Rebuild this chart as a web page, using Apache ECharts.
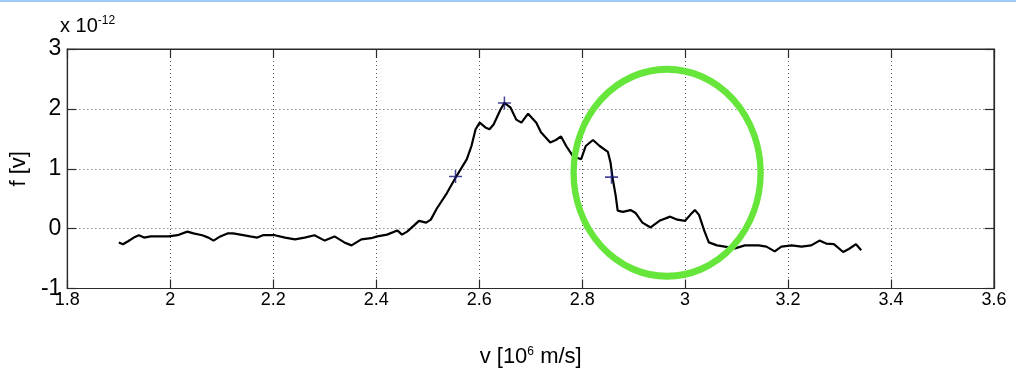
<!DOCTYPE html>
<html><head><meta charset="utf-8">
<script src="https://cdn.jsdelivr.net/npm/echarts@6/dist/echarts.min.js"></script>
<style>html,body{margin:0;padding:0;background:#fff}#c{width:1016px;height:373px}</style>
</head><body><div id="c"></div>
<script>
// velocity v [10^6 m/s]
const velocity = [1.900,1.908,1.918,1.929,1.939,1.949,1.962,1.981,1.997,2.014,2.033,2.045,2.062,2.074,2.084,2.097,2.111,2.122,2.136,2.155,2.169,2.180,2.194,2.203,2.223,2.242,2.261,2.280,2.300,2.319,2.338,2.352,2.371,2.390,2.402,2.421,2.441,2.450,2.460,2.473,2.483,2.497,2.506,2.518,2.537,2.554,2.576,2.585,2.593,2.601,2.612,2.620,2.628,2.641,2.649,2.661,2.672,2.682,2.695,2.711,2.720,2.738,2.749,2.759,2.769,2.782,2.798,2.807,2.821,2.834,2.850,2.855,2.859,2.865,2.869,2.879,2.894,2.904,2.917,2.933,2.950,2.971,2.985,3.000,3.010,3.019,3.027,3.037,3.046,3.062,3.077,3.097,3.116,3.143,3.158,3.174,3.187,3.207,3.226,3.245,3.261,3.274,3.289,3.307,3.318,3.332,3.342];
// f [v] in units of 1e-12
const force = [-0.23,-0.26,-0.21,-0.15,-0.11,-0.15,-0.13,-0.13,-0.13,-0.11,-0.05,-0.08,-0.11,-0.15,-0.20,-0.13,-0.08,-0.08,-0.10,-0.13,-0.15,-0.11,-0.11,-0.11,-0.15,-0.18,-0.15,-0.11,-0.20,-0.13,-0.23,-0.28,-0.18,-0.16,-0.13,-0.10,-0.03,-0.10,-0.05,0.05,0.13,0.10,0.15,0.34,0.59,0.85,1.16,1.38,1.66,1.77,1.69,1.66,1.74,1.98,2.10,2.02,1.82,1.77,1.92,1.77,1.61,1.44,1.48,1.54,1.38,1.21,1.16,1.38,1.48,1.38,1.28,1.11,0.85,0.56,0.30,0.28,0.31,0.26,0.10,0.02,0.13,0.20,0.15,0.13,0.23,0.31,0.23,-0.03,-0.23,-0.28,-0.30,-0.33,-0.28,-0.28,-0.30,-0.38,-0.30,-0.28,-0.30,-0.28,-0.20,-0.25,-0.26,-0.39,-0.34,-0.26,-0.36];
const markerV = [2.554, 2.649, 2.857];
const markerF = [0.87, 2.10, 0.86];
const ellipseCenter = [2.965, 0.934];

const SANS = "'Liberation Sans',Arial,sans-serif";
const NARROW = "'Liberation Sans Narrow','Liberation Sans',sans-serif";
const chart = echarts.init(document.getElementById('c'), null, {renderer: 'canvas'});
const lineData = velocity.map((v, i) => [v, force[i]]);
const markData = markerV.map((v, i) => [v, markerF[i]]);
const axisLineStyle = {color: '#2b2b2b', width: 1.2};
const fmt = v => String(+v.toFixed(1));
const supRich = {sup: {fontSize: 12, fontFamily: SANS, color: '#000', verticalAlign: 'top', padding: [0, 0, 11, 0]}};

function graphics(extra) {
  return [
    {type: 'rect', left: 0, top: 0, shape: {width: 1016, height: 2}, style: {fill: '#9fcdf7'}},
    {type: 'text', left: 60, top: 15, style: {text: 'x 10{sup|-12}', fontFamily: SANS, fontSize: 20, fill: '#000', rich: supRich}}
  ].concat(extra || []);
}

chart.setOption({
  animation: false,
  backgroundColor: '#fff',
  grid: {left: 61, right: 22, top: 49, bottom: 80, show: true, borderColor: '#2b2b2b', borderWidth: 1.2},
  xAxis: [{
    type: 'value', min: 1.8, max: 3.6, interval: 0.2,
    name: 'v [10{sup|6} m/s]', nameLocation: 'middle', nameGap: 57,
    nameTextStyle: {fontFamily: SANS, fontSize: 22, color: '#000', rich: supRich},
    axisLine: {show: true, onZero: false, lineStyle: axisLineStyle},
    axisTick: {show: true, inside: true, length: 9, lineStyle: axisLineStyle},
    axisLabel: {fontFamily: SANS, fontSize: 18, color: '#000', margin: 3, formatter: fmt},
    splitLine: {show: true, lineStyle: {color: '#555', type: [1, 3], width: 1}}
  }, {
    type: 'value', min: 1.8, max: 3.6, interval: 0.2, position: 'top',
    axisLine: {show: true, onZero: false, lineStyle: axisLineStyle},
    axisTick: {show: true, inside: true, length: 9, lineStyle: axisLineStyle},
    axisLabel: {show: false}, splitLine: {show: false}
  }],
  yAxis: [{
    type: 'value', min: -1, max: 3, interval: 1,
    name: 'f [v]', nameLocation: 'middle', nameGap: 28,
    nameTextStyle: {fontFamily: SANS, fontSize: 22, color: '#000'},
    axisLine: {show: true, onZero: false, lineStyle: axisLineStyle},
    axisTick: {show: true, inside: true, length: 9, lineStyle: axisLineStyle},
    axisLabel: {fontFamily: NARROW, fontSize: 23, color: '#000', margin: 6},
    splitLine: {show: true, lineStyle: {color: '#555', type: [1, 3], width: 1}}
  }, {
    type: 'value', min: -1, max: 3, interval: 1, position: 'right',
    axisLine: {show: true, onZero: false, lineStyle: axisLineStyle},
    axisTick: {show: true, inside: true, length: 9, lineStyle: axisLineStyle},
    axisLabel: {show: false}, splitLine: {show: false}
  }],
  series: [{
    type: 'line', data: lineData, showSymbol: false, symbol: 'none',
    lineStyle: {color: '#000', width: 2.2}, z: 3
  }, {
    type: 'scatter', data: markData,
    symbol: 'path://M0,5.3 L12,5.3 L12,6.7 L0,6.7 Z M5.3,0 L6.7,0 L6.7,12 L5.3,12 Z',
    symbolSize: 13, itemStyle: {color: '#16167a'}, z: 4
  }],
  graphic: graphics()
});

const c = chart.convertToPixel({gridIndex: 0}, ellipseCenter);
const ry = 103.5, rx = 93.5;
chart.setOption({
  graphic: graphics([
    {type: 'circle', x: c[0], y: c[1], scaleX: rx / ry, scaleY: 1, shape: {cx: 0, cy: 0, r: ry},
      style: {fill: 'none', stroke: '#66e63a', lineWidth: 7, strokeNoScale: true}, z: 10}
  ])
});
</script></body></html>
